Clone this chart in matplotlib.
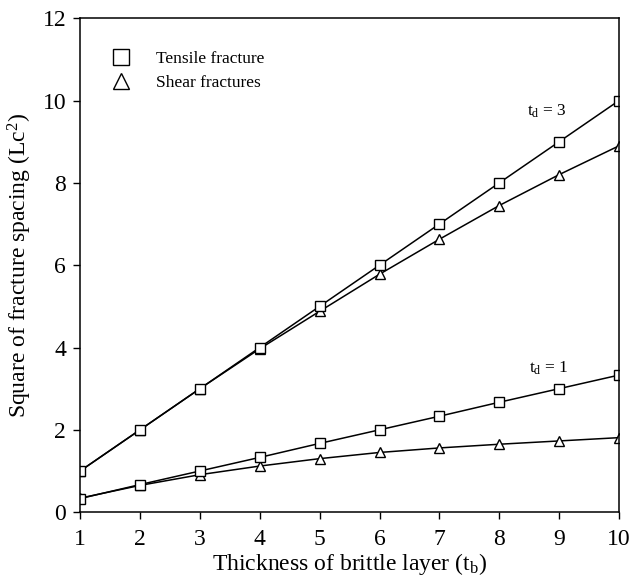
import numpy as np
import matplotlib.pyplot as plt
from matplotlib.lines import Line2D

plt.rcParams['font.family'] = ['Liberation Serif', 'DejaVu Serif']
plt.rcParams['mathtext.fontset'] = 'stix'

# Thickness of brittle layer
tb = [1, 2, 3, 4, 5, 6, 7, 8, 9, 10]

# td = 3
tensile3 = [1.0, 2.0, 3.0, 4.0, 5.0, 6.0, 7.0, 8.0, 9.0, 10.0]
shear3 = [1.0, 2.0, 3.0, 3.97, 4.88, 5.78, 6.63, 7.45, 8.2, 8.9]

# td = 1
tensile1 = [0.33, 0.67, 1.0, 1.33, 1.67, 2.0, 2.33, 2.67, 3.0, 3.33]
shear1 = [0.34, 0.65, 0.91, 1.12, 1.30, 1.45, 1.56, 1.65, 1.73, 1.81]

fig = plt.figure(figsize=(6.31, 5.88), dpi=100)
ax = fig.add_axes([0.127, 0.129, 0.854, 0.840])

sq = dict(marker='s', ms=6.5, mfc='white', mec='black', mew=1.0)
tri = dict(marker='^', ms=6.5, mfc='white', mec='black', mew=1.0)

ax.plot(tb, shear3, color='black', lw=1.1, **tri)
ax.plot(tb, tensile3, color='black', lw=1.1, **sq)
ax.plot(tb, shear1, color='black', lw=1.1, **tri)
ax.plot(tb, tensile1, color='black', lw=1.1, **sq)

ax.text(8.47, 9.75, r'$\mathregular{t_d}$ = 3', fontsize=12.5, va='center')
ax.text(8.5, 3.5, r'$\mathregular{t_d}$ = 1', fontsize=12.5, va='center')

ax.set_xlim(1, 10)
ax.set_ylim(0, 12)
ax.set_xticks(range(1, 11))
ax.set_yticks(range(0, 13, 2))
ax.tick_params(direction='out', length=5, width=1, labelsize=17, pad=5)
ax.tick_params(axis='x', pad=7)
for s in ax.spines.values():
    s.set_linewidth(1.1)

ax.set_xlabel(r'Thickness of brittle layer ($\mathregular{t_b}$)', fontsize=17, labelpad=1)
ax.set_ylabel(r'Square of fracture spacing ($\mathregular{Lc^2}$)', fontsize=17, labelpad=6)

handles = [Line2D([], [], ls='none', marker='s', ms=11, mfc='white', mec='black', mew=1.0),
           Line2D([], [], ls='none', marker='^', ms=12, mfc='white', mec='black', mew=1.0)]
ax.legend(handles, ['Tensile fracture', 'Shear fractures'], loc='upper left',
          bbox_to_anchor=(0.015, 0.965), frameon=False, fontsize=12.5,
          handletextpad=1.0, labelspacing=0.45)

fig.savefig('out.png', dpi=100)
